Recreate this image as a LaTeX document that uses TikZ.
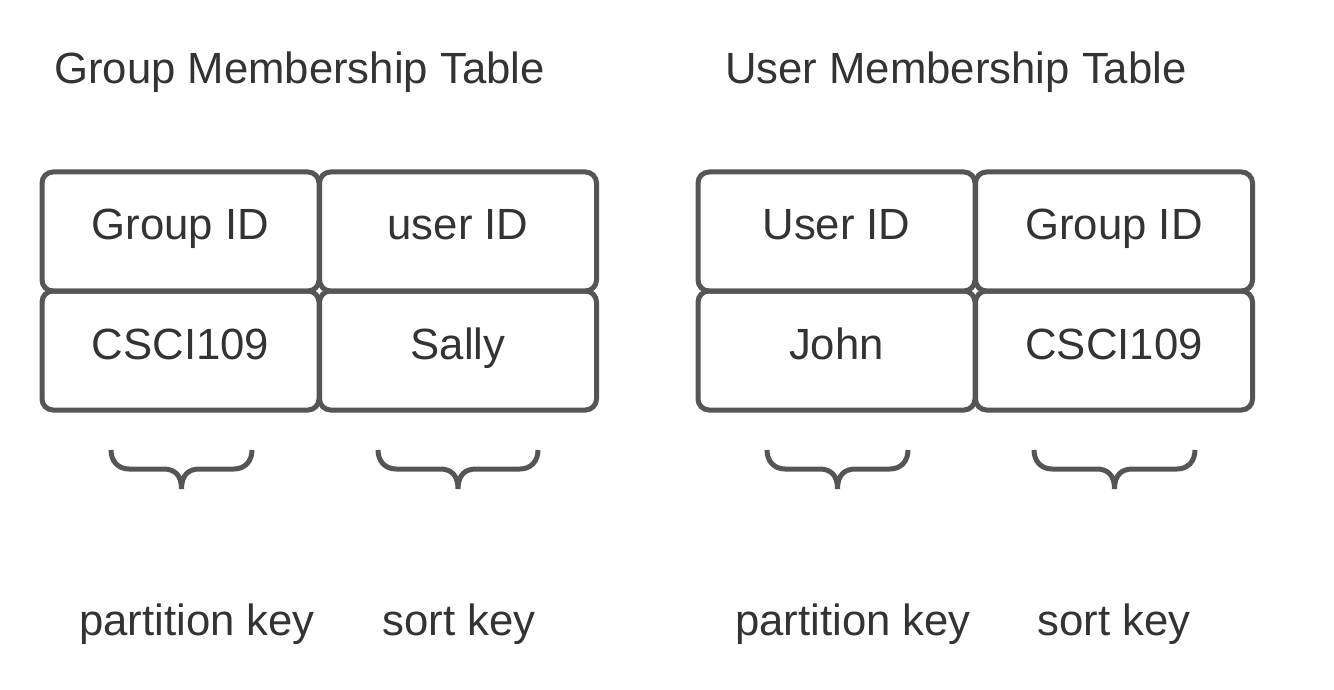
\documentclass[tikz,border=0pt]{standalone}
\usepackage{fontspec}
\setmainfont{Liberation Sans}
\definecolor{linegray}{HTML}{555555}
\definecolor{textgray}{HTML}{333333}
\tikzset{
  cell/.style={draw=linegray, line width=5pt, rounded corners=11pt,
    minimum width=277pt, minimum height=119pt, inner sep=0pt,
    text height=31pt, text depth=14pt, text=textgray,
    font=\fontsize{43.7}{50}\selectfont},
  lbl/.style={text=textgray, inner sep=0pt, font=\fontsize{43.7}{50}\selectfont},
  bracepath/.style={draw=linegray, line width=5pt}
}
\newcommand{\mybrace}[3]{% left x, right x, center x
  \draw[bracepath] (#1,450) .. controls (#1,461) and ({#1+7},469) .. ({#1+18},469)
    -- ({#3-18},469) .. controls ({#3-7},469) and (#3,475) .. (#3,489)
    .. controls (#3,475) and ({#3+7},469) .. ({#3+18},469)
    -- ({#2-18},469) .. controls ({#2-7},469) and (#2,461) .. (#2,450);
}
\begin{document}
\begin{tikzpicture}[x=1pt,y=-1pt]
\useasboundingbox (0,0) rectangle (1334,690);
\fill[white] (0,0) rectangle (1334,690);
% titles
\node[lbl, anchor=base west] (t1) at (54,84) {Group Membership Table};
\node[lbl, anchor=base west] (t2) at (725,84) {User Membership Table};
% left table
\node[cell] (a11) at (180.5,231.5) {Group ID};
\node[cell] (a12) at (458,231.5) {user ID};
\node[cell] (a21) at (180.5,350.5) {CSCI109};
\node[cell] (a22) at (458,350.5) {Sally};
% right table
\node[cell] (b11) at (836.5,231.5) {User ID};
\node[cell] (b12) at (1114,231.5) {Group ID};
\node[cell] (b21) at (836.5,350.5) {John};
\node[cell] (b22) at (1114,350.5) {CSCI109};
% braces
\mybrace{111}{252}{181.5}
\mybrace{378}{538}{458}
\mybrace{767}{908}{837.5}
\mybrace{1034}{1195}{1114.5}
% labels
\node[lbl, anchor=base] (p1) at (197,635) {partition key};
\node[lbl, anchor=base] (s1) at (459,635) {sort key};
\node[lbl, anchor=base] (p2) at (853,635) {partition key};
\node[lbl, anchor=base] (s2) at (1114,635) {sort key};
\end{tikzpicture}
\end{document}
